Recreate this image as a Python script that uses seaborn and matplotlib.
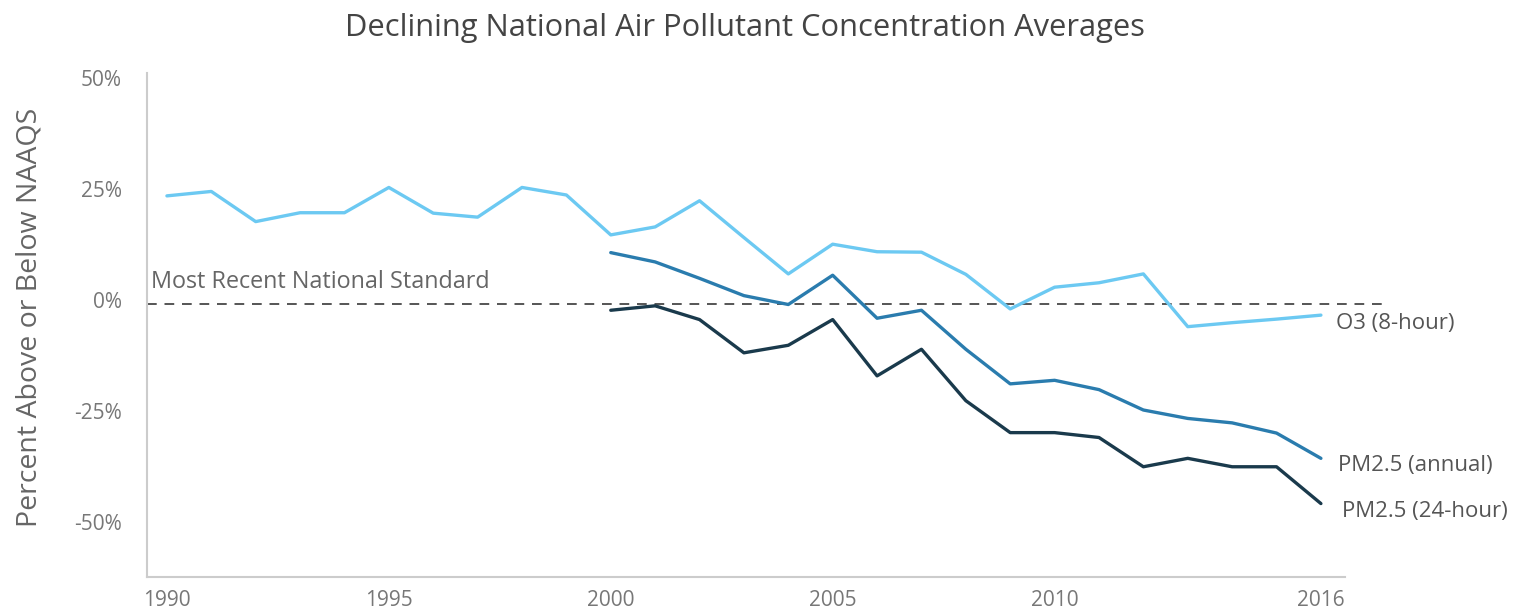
import numpy as np
import pandas as pd
import seaborn as sns
import matplotlib.pyplot as plt

# values (percent above/below NAAQS)
years_o3 = list(range(1990, 2017))
o3_8hour = [23.5, 24.5, 17.7, 19.7, 19.7, 25.4, 19.6, 18.7, 25.4, 23.7,
            14.7, 16.5, 22.4, 14.1, 5.9, 12.6, 10.9, 10.8, 5.8, -2.0,
            2.9, 3.9, 5.9, -6.0, -5.1, -4.3, -3.4]

years_pm = list(range(2000, 2017))
pm25_annual = [10.7, 8.6, 4.9, 1.0, -1.0, 5.6, -4.1, -2.3, -11.1, -18.9,
               -18.1, -20.2, -24.8, -26.7, -27.7, -30.0, -35.7]
pm25_24hour = [-2.3, -1.3, -4.4, -11.9, -10.2, -4.4, -17.1, -11.1, -22.7, -29.9,
               -29.9, -31.0, -37.6, -35.7, -37.6, -37.6, -45.9]

series_names = ["O3 (8-hour)", "PM2.5 (annual)", "PM2.5 (24-hour)"]
series_colors = ["#6cc9f2", "#2a7cae", "#1a3a4c"]
y_ticks = [-50, -25, 0, 25, 50]
x_ticks = [1990, 1995, 2000, 2005, 2010, 2016]
standard_level = -1.0

frames = [
    pd.DataFrame({"year": years_o3, "pct": o3_8hour, "series": series_names[0]}),
    pd.DataFrame({"year": years_pm, "pct": pm25_annual, "series": series_names[1]}),
    pd.DataFrame({"year": years_pm, "pct": pm25_24hour, "series": series_names[2]}),
]
df = pd.concat(frames, ignore_index=True)

sns.set_theme(style="white")
plt.rcParams["font.family"] = ["Open Sans", "DejaVu Sans"]

fig = plt.figure(figsize=(15.15, 6.14), dpi=100)
ax = fig.add_axes([0.097, 0.060, 0.791, 0.821])

sns.lineplot(data=df, x="year", y="pct", hue="series", hue_order=series_names,
             palette=series_colors, linewidth=2.4, legend=False, ax=ax)

ax.set_xlim(1989.55, 2016.55)
ax.set_ylim(-62.5, 51.2)

# dashed standard line runs a little past the axis end
ax.plot([1989.55, 2017.5], [standard_level, standard_level], color="#555555",
        linestyle=(0, (5, 4)), linewidth=1.4, clip_on=False, zorder=1)
ax.text(1989.63, 4.0, "Most Recent National Standard", fontsize=16.8,
        color="#666666", va="center", ha="left")

# end-of-line labels
label_offsets = [(11, -6), (12, -5), (15, -6)]
last_values = [o3_8hour[-1], pm25_annual[-1], pm25_24hour[-1]]
for name, val, off in zip(series_names, last_values, label_offsets):
    ax.annotate(name, xy=(2016, val), xytext=off, textcoords="offset points",
                fontsize=16, color="#555555", va="center", ha="left",
                annotation_clip=False)

ax.set_yticks(y_ticks)
ax.set_yticklabels([f"{v}%" for v in y_ticks])
ax.set_xticks(x_ticks)
ax.set_xticklabels([str(v) for v in x_ticks])
ax.tick_params(axis="y", length=0, pad=18, labelsize=15, labelcolor="#777777")
ax.tick_params(axis="x", length=0, pad=9, labelsize=15, labelcolor="#777777")

ax.set_xlabel("")
ax.set_ylabel("Percent Above or Below NAAQS", fontsize=20.5, color="#666666")
ax.yaxis.set_label_coords(-0.086, 0.516)

sns.despine(ax=ax)
for side in ["left", "bottom"]:
    ax.spines[side].set_color("#cccccc")
    ax.spines[side].set_linewidth(1.5)

fig.text(0.492, 0.954, "Declining National Air Pollutant Concentration Averages",
         fontsize=22.2, color="#444444", ha="center", va="center")

fig.savefig("out.png", dpi=100)
